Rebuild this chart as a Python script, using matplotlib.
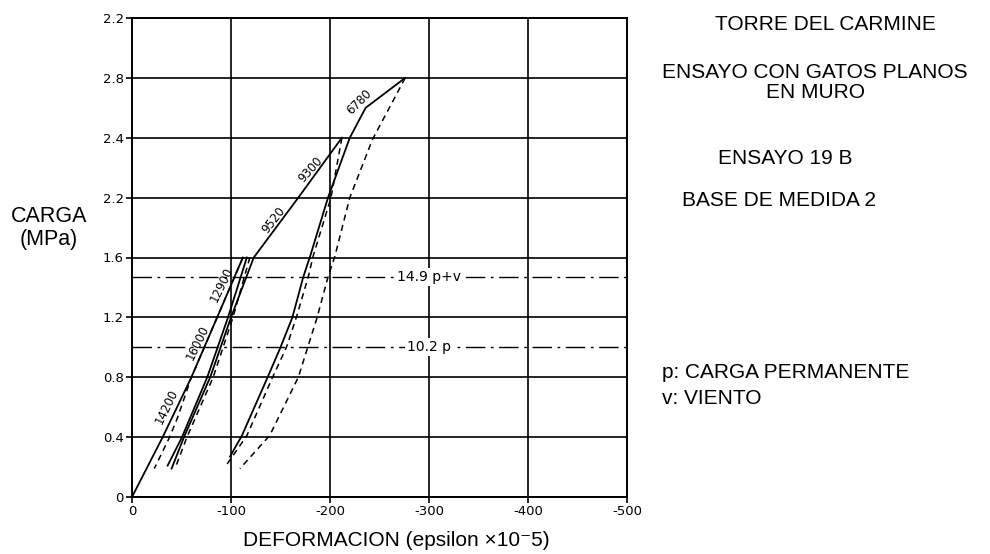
import numpy as np
import matplotlib.pyplot as plt

# load (MPa) vs deformation (epsilon x10^-5, compression negative), four load cycles
c1_load_x = [0, -31, -60, -86, -112]
c1_load_y = [0, 0.4, 0.8, 1.2, 1.6]
c1_unload_x = [-112, -86, -60, -46, -38, -22.5]
c1_unload_y = [1.6, 1.2, 0.8, 0.53, 0.4, 0.19]

c2_load_x = [-36, -50.5, -76, -97, -116]
c2_load_y = [0.21, 0.4, 0.8, 1.2, 1.6]
c2_unload_x = [-119, -102, -82, -55.5, -44]
c2_unload_y = [1.6, 1.2, 0.8, 0.4, 0.2]

c3_load_x = [-40, -52.5, -79, -100, -123, -168, -212]
c3_load_y = [0.19, 0.4, 0.8, 1.2, 1.6, 2.0, 2.4]
c3_unload_x = [-212, -201, -183, -178, -166, -156, -142, -116, -94]
c3_unload_y = [2.4, 2.0, 1.61, 1.47, 1.2, 1.0, 0.8, 0.41, 0.2]

c4_load_x = [-99, -111, -137, -150, -162, -173, -180, -198, -220, -236, -276]
c4_load_y = [0.27, 0.41, 0.8, 1.0, 1.2, 1.47, 1.61, 2.0, 2.4, 2.6, 2.8]
c4_unload_x = [-276, -243, -220, -205, -198, -187, -168, -139, -109]
c4_unload_y = [2.8, 2.39, 2.0, 1.61, 1.47, 1.2, 0.8, 0.41, 0.19]

# secant moduli written along the loading branches
mod_text = ['14200', '16000', '12900', '9520', '9300', '6780']
mod_x = [-35, -66, -90.5, -143, -180, -229]
mod_y = [0.60, 1.03, 1.42, 1.85, 2.19, 2.64]
mod_rot = [64, 64, 64, 52, 48, 45]

# reference load levels (kg/cm2 labels)
ref_y = [1.47, 1.0]
ref_text = ['14.9 p+v', '10.2 p']

yticks = np.arange(0, 3.21, 0.4)
ytick_labels = ['0', '0.4', '0.8', '1.2', '1.6', '2.2', '2.4', '2.8', '2.2']
xticks = [0, -100, -200, -300, -400, -500]
xtick_labels = ['0', '-100', '-200', '-300', '-400', '-500']

fig = plt.figure(figsize=(9.9, 5.54), dpi=100)
ax = fig.add_axes([132/990, 57/554, 495/990, 479/554])

solid = dict(color='k', lw=1.3, solid_joinstyle='miter')
dash = dict(color='k', lw=1.1, ls=(0, (4, 3)))
for x, y in [(c1_load_x, c1_load_y), (c2_load_x, c2_load_y),
             (c3_load_x, c3_load_y), (c4_load_x, c4_load_y)]:
    ax.plot(x, y, **solid, zorder=4)
for x, y in [(c1_unload_x, c1_unload_y), (c2_unload_x, c2_unload_y),
             (c3_unload_x, c3_unload_y), (c4_unload_x, c4_unload_y)]:
    ax.plot(x, y, **dash, zorder=4)

for t, x, y, r in zip(mod_text, mod_x, mod_y, mod_rot):
    ax.text(x, y, t, rotation=r, fontsize=8.5, ha='center', va='center',
            rotation_mode='anchor', zorder=5)

for y, t in zip(ref_y, ref_text):
    ax.axhline(y, color='k', lw=1.0, ls=(0, (14, 4, 2, 4)), zorder=3)
    ax.text(-300, y, t, fontsize=10, ha='center', va='center', zorder=5,
            bbox=dict(facecolor='white', edgecolor='none', pad=1.5))

ax.set_xlim(0, -500)
ax.set_ylim(0, 3.2)
ax.set_xticks(xticks)
ax.set_xticklabels(xtick_labels, fontsize=9.5)
ax.set_yticks(yticks)
ax.set_yticklabels(ytick_labels, fontsize=9.5)
ax.tick_params(direction='out', length=4, width=1.2, pad=2)
ax.grid(True, color='k', lw=1.2, zorder=1)
ax.set_axisbelow(True)
for s in ax.spines.values():
    s.set_linewidth(1.4)

sans = ['Liberation Sans', 'DejaVu Sans']
fig.text(49/990, 1 - 216/554, 'CARGA', fontsize=15.5, family=sans, ha='center', va='center')
fig.text(49/990, 1 - 240/554, '(MPa)', fontsize=15.5, family=sans, ha='center', va='center')
fig.text(396/990, 1 - 541/554, 'DEFORMACION (epsilon \u00d710\u207b5)', fontsize=15,
         family=sans, ha='center', va='center')

fig.text(825/990, 1 - 25/554, 'TORRE DEL CARMINE', fontsize=15, family=sans, ha='center', va='center')
fig.text(815/990, 1 - 73/554, 'ENSAYO CON GATOS PLANOS', fontsize=15, family=sans, ha='center', va='center')
fig.text(815/990, 1 - 93/554, 'EN MURO', fontsize=15, family=sans, ha='center', va='center')
fig.text(785/990, 1 - 158/554, 'ENSAYO 19 B', fontsize=15, family=sans, ha='center', va='center')
fig.text(779/990, 1 - 200/554, 'BASE DE MEDIDA 2', fontsize=15, family=sans, ha='center', va='center')
fig.text(662/990, 1 - 373/554, 'p: CARGA PERMANENTE', fontsize=15, family=sans, ha='left', va='center')
fig.text(662/990, 1 - 398/554, 'v: VIENTO', fontsize=15, family=sans, ha='left', va='center')

fig.savefig('out.png', dpi=100)
